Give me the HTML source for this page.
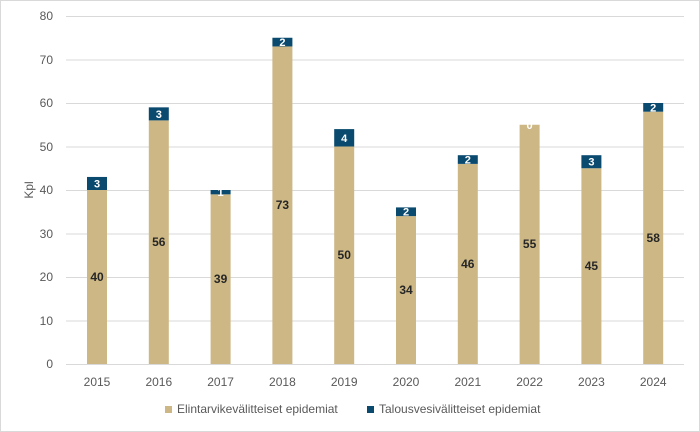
<!DOCTYPE html>
<html><head><style>body{margin:0;background:#fff}svg{display:block;font-family:"Liberation Sans",sans-serif}</style></head><body>
<svg width="700" height="432" viewBox="0 0 700 432">
<rect x="0.5" y="0.5" width="699" height="431" fill="#fff" stroke="#d9d9d9"/>
<g stroke="#d9d9d9" stroke-width="1">
<line x1="66" x2="684" y1="364.5" y2="364.5"/><line x1="66" x2="684" y1="321" y2="321"/><line x1="66" x2="684" y1="277.5" y2="277.5"/><line x1="66" x2="684" y1="234" y2="234"/><line x1="66" x2="684" y1="190.5" y2="190.5"/><line x1="66" x2="684" y1="147" y2="147"/><line x1="66" x2="684" y1="103.5" y2="103.5"/><line x1="66" x2="684" y1="60" y2="60"/><line x1="66" x2="684" y1="16.5" y2="16.5"/>
</g>
<g font-size="12" fill="#595959" text-anchor="end">
<text x="53" y="368">0</text><text x="53" y="325">10</text><text x="53" y="281">20</text><text x="53" y="238">30</text><text x="53" y="194">40</text><text x="53" y="151">50</text><text x="53" y="107">60</text><text x="53" y="64">70</text><text x="53" y="20">80</text>
</g>
<text transform="translate(33,190) rotate(-90)" font-size="12" fill="#595959" text-anchor="middle">Kpl</text>
<g fill="#cdb885">
<rect x="87" y="190" width="20" height="174"/>
<rect x="148.8" y="120.4" width="20" height="243.6"/>
<rect x="210.6" y="194.35" width="20" height="169.65"/>
<rect x="272.4" y="46.45" width="20" height="317.55"/>
<rect x="334.2" y="146.5" width="20" height="217.5"/>
<rect x="396" y="216.1" width="20" height="147.9"/>
<rect x="457.8" y="163.9" width="20" height="200.1"/>
<rect x="519.6" y="124.75" width="20" height="239.25"/>
<rect x="581.4" y="168.25" width="20" height="195.75"/>
<rect x="643.2" y="111.7" width="20" height="252.3"/>
</g>
<g fill="#0b4a6f">
<rect x="87" y="176.95" width="20" height="13.05"/>
<rect x="148.8" y="107.35" width="20" height="13.05"/>
<rect x="210.6" y="190" width="20" height="4.35"/>
<rect x="272.4" y="37.75" width="20" height="8.7"/>
<rect x="334.2" y="129.1" width="20" height="17.4"/>
<rect x="396" y="207.4" width="20" height="8.7"/>
<rect x="457.8" y="155.2" width="20" height="8.7"/>
<rect x="581.4" y="155.2" width="20" height="13.05"/>
<rect x="643.2" y="103" width="20" height="8.7"/>
</g>
<g font-size="12" font-weight="bold" fill="#262626" text-anchor="middle">
<text x="97" y="281">40</text><text x="158.8" y="246">56</text><text x="220.6" y="283">39</text><text x="282.4" y="209">73</text><text x="344.2" y="259">50</text><text x="406" y="294">34</text><text x="467.8" y="268">46</text><text x="529.6" y="248">55</text><text x="591.4" y="270">45</text><text x="653.2" y="242">58</text>
</g>
<g font-size="11" font-weight="bold" fill="#fff" text-anchor="middle">
<text x="97" y="187.5">3</text><text x="158.8" y="118">3</text><text x="220.6" y="196">1</text><text x="282.4" y="46">2</text><text x="344.2" y="142">4</text><text x="406" y="215.5">2</text><text x="467.8" y="163.5">2</text><text x="529.6" y="129">0</text><text x="591.4" y="165.7">3</text><text x="653.2" y="111.3">2</text>
</g>
<g font-size="12" fill="#595959" text-anchor="middle">
<text x="97" y="386">2015</text><text x="158.8" y="386">2016</text><text x="220.6" y="386">2017</text><text x="282.4" y="386">2018</text><text x="344.2" y="386">2019</text><text x="406" y="386">2020</text><text x="467.8" y="386">2021</text><text x="529.6" y="386">2022</text><text x="591.4" y="386">2023</text><text x="653.2" y="386">2024</text>
</g>
<rect x="165" y="406" width="7" height="7" fill="#cdb885"/>
<text x="177" y="413" font-size="12" fill="#595959">Elintarvikevälitteiset epidemiat</text>
<rect x="367" y="406" width="7" height="7" fill="#0b4a6f"/>
<text x="379" y="413" font-size="12" fill="#595959">Talousvesivälitteiset epidemiat</text>
</svg>
</body></html>
